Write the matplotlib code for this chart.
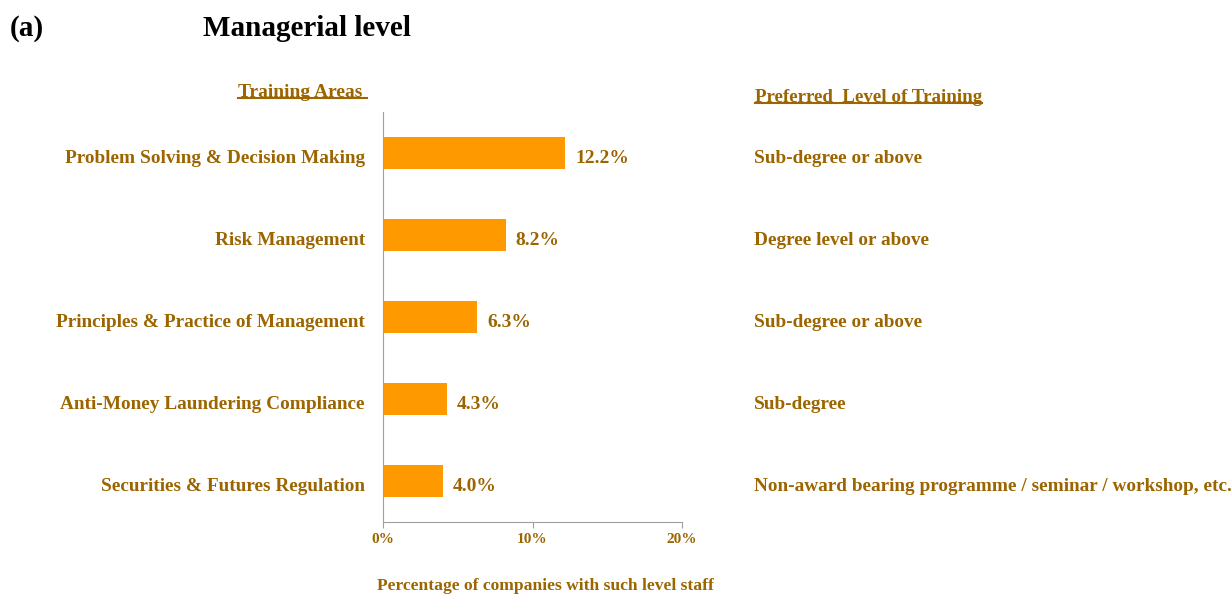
import matplotlib
matplotlib.use("Agg")
import matplotlib.pyplot as plt
from matplotlib.lines import Line2D
from matplotlib.transforms import blended_transform_factory, ScaledTranslation

categories = ["Problem Solving & Decision Making", "Risk Management",
              "Principles & Practice of Management", "Anti-Money Laundering Compliance",
              "Securities & Futures Regulation"]
values = [12.2, 8.2, 6.3, 4.3, 4.0]
levels = ["Sub-degree or above", "Degree level or above", "Sub-degree or above",
          "Sub-degree", "Non-award bearing programme / seminar / workshop, etc."]
xticks = [0, 10, 20]

BROWN = "#9C6500"
BAR = "#FF9900"
plt.rcParams['font.family'] = ['Liberation Serif', 'DejaVu Serif']

fig = plt.figure(figsize=(12.31, 5.96), dpi=100)
ax = fig.add_axes([383/1231, 1-522/596, (682-383)/1231, (522-112)/596])
y = list(range(len(categories)))
ax.barh(y, values, height=0.4, color=BAR)
ax.set_ylim(len(categories)-0.5, -0.5)
ax.set_xlim(0, 20)
ax.set_yticks(y)
ax.set_yticklabels([])
ax.tick_params(axis='y', length=0)
ax.set_xticks(xticks)
ax.set_xticklabels([f"{t}%" for t in xticks], fontsize=11, fontweight='bold', color=BROWN)
ax.tick_params(axis='x', length=4, color='#A0A0A0', pad=4)
for s in ['top', 'right']:
    ax.spines[s].set_visible(False)
for s in ['left', 'bottom']:
    ax.spines[s].set_color('#A0A0A0')

down = ScaledTranslation(0, -0.03, fig.dpi_scale_trans)
tr = blended_transform_factory(fig.transFigure, ax.transData) + down
for yi, c in zip(y, categories):
    ax.text(365/1231, yi, c, transform=tr, va='center_baseline', ha='right',
            fontsize=13.9, fontweight='bold', color=BROWN)

fig.text(545/1231, 1-586/596, "Percentage of companies with such level staff", fontsize=12.6,
         fontweight='bold', color=BROWN, ha='center', va='center')

for yi, v in zip(y, values):
    ax.text(v + 0.65, yi, f"{v:.1f}%", transform=ax.transData + down,
            va='center_baseline', ha='left', fontsize=14, fontweight='bold', color=BROWN)
for yi, lv in zip(y, levels):
    ax.text(754/1231, yi, lv, transform=tr, va='center_baseline', ha='left',
            fontsize=13.9, fontweight='bold', color=BROWN)

fig.text(10/1231, 1-28/596, "(a)", fontsize=21, fontweight='bold', color='black', va='center')
fig.text(203/1231, 1-28/596, "Managerial level", fontsize=21, fontweight='bold', color='black', va='center')

h1 = fig.text(238/1231, 1-90/596, "Training Areas ", fontsize=14, fontweight='bold', color=BROWN, va='center_baseline')
h2 = fig.text(755/1231, 1-95/596, "Preferred  Level of Training", fontsize=13.7, fontweight='bold', color=BROWN, va='center_baseline')

fig.canvas.draw()
r = fig.canvas.get_renderer()
inv = fig.transFigure.inverted()
for h in (h1, h2):
    bb = h.get_window_extent(r)
    (x0, y0), (x1, y1) = inv.transform([(bb.x0, bb.y0), (bb.x1, bb.y1)])
    fig.add_artist(Line2D([x0, x1], [y0 + 0.004, y0 + 0.004], transform=fig.transFigure,
                          color=BROWN, lw=1.5))

fig.savefig("out.png", dpi=100)
